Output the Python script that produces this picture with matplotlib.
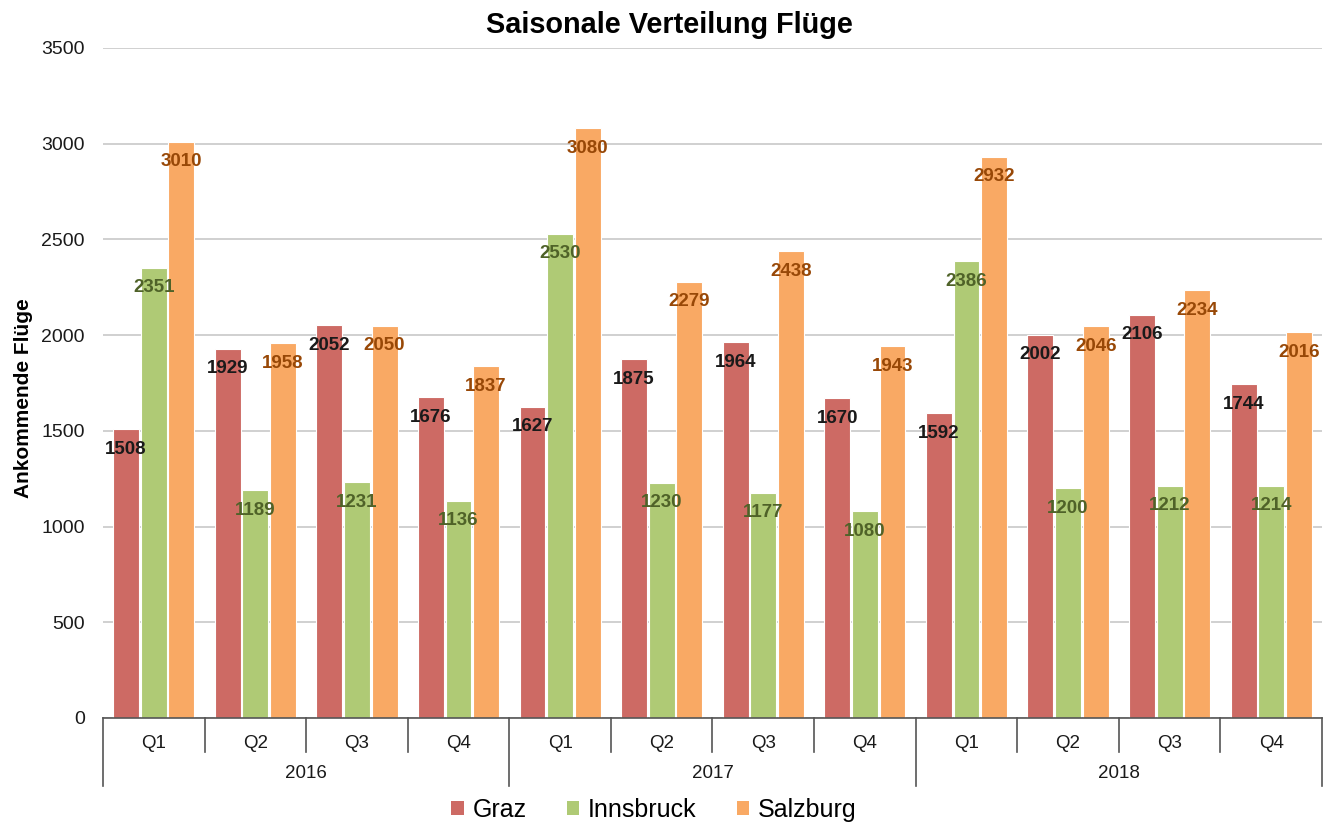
import numpy as np
import matplotlib.pyplot as plt
from matplotlib.transforms import blended_transform_factory
from matplotlib.patches import Patch

plt.rcParams['font.family'] = ['Liberation Sans', 'DejaVu Sans']

years = ['2016', '2017', '2018']
quarters = ['Q1', 'Q2', 'Q3', 'Q4']
graz = [1508, 1929, 2052, 1676, 1627, 1875, 1964, 1670, 1592, 2002, 2106, 1744]
innsbruck = [2351, 1189, 1231, 1136, 2530, 1230, 1177, 1080, 2386, 1200, 1212, 1214]
salzburg = [3010, 1958, 2050, 1837, 3080, 2279, 2438, 1943, 2932, 2046, 2234, 2016]

series = [('Graz', graz, '#CD6A64', '#1a1a1a'),
          ('Innsbruck', innsbruck, '#AFCA75', '#4F6228'),
          ('Salzburg', salzburg, '#F9A964', '#984807')]

fig = plt.figure(figsize=(13.26, 8.24), dpi=100)
ax = fig.add_axes([103/1326, 106/824, 1219/1326, 670/824])

x = np.arange(len(graz))
step = 0.272
width = 0.255

for i, (name, vals, col, lcol) in enumerate(series):
    pos = x + (i - 1) * step
    ax.bar(pos, vals, width, color=col, edgecolor='white', linewidth=0.8, zorder=3)
    for p, v in zip(pos, vals):
        ax.annotate(str(v), (p, v), xytext=(0, -20), textcoords='offset pixels',
                    ha='center', va='center', fontsize=13.5, fontweight='bold',
                    color=lcol, zorder=4)

ax.set_xlim(-0.5, len(graz) - 0.5)
ax.set_ylim(0, 3500)
ax.set_yticks(np.arange(0, 3501, 500))
ax.yaxis.grid(True, color='#c8c8c8', linewidth=1.2, zorder=0)
ax.tick_params(axis='y', length=0, labelsize=14, pad=13, colors='#1a1a1a')
ax.set_xticks([])
for s in ['top', 'right', 'left']:
    ax.spines[s].set_visible(False)
ax.spines['bottom'].set_color('#555555')
ax.spines['bottom'].set_linewidth(1.2)
ax.spines['bottom'].set_zorder(5)

ax.set_ylabel('Ankommende Flüge', fontsize=15, fontweight='bold', labelpad=8)
ax.yaxis.set_label_coords(-70/1219, 0.478)

# two level category axis
tr = blended_transform_factory(ax.transData, ax.transAxes)
h = 670.0
for k in range(len(graz)):
    ax.text(k, -25/h, quarters[k % 4], transform=tr, ha='center', va='center',
            fontsize=13.5, color='#1a1a1a')
for k in range(len(graz) + 1):
    xb = k - 0.5
    low = -68/h if k % 4 == 0 else -34/h
    ax.plot([xb, xb], [0, low], transform=tr, color='#555555', lw=1.2, clip_on=False)
for j, yr in enumerate(years):
    ax.text(j * 4 + 1.5, -55/h, yr, transform=tr, ha='center', va='center',
            fontsize=13.5, color='#1a1a1a')

fig.text(669/1326, 1 - 25/824, 'Saisonale Verteilung Flüge', ha='center', va='center',
         fontsize=20.8, fontweight='bold')

handles = [Patch(facecolor=c, label=n) for n, _, c, _ in series]
fig.legend(handles=handles, loc='center', bbox_to_anchor=(654/1326, 1 - 810/824),
           ncol=3, frameon=False, fontsize=18, handlelength=0.5, handleheight=0.5,
           handletextpad=0.35, columnspacing=1.6)

fig.savefig('out.png', dpi=100)
